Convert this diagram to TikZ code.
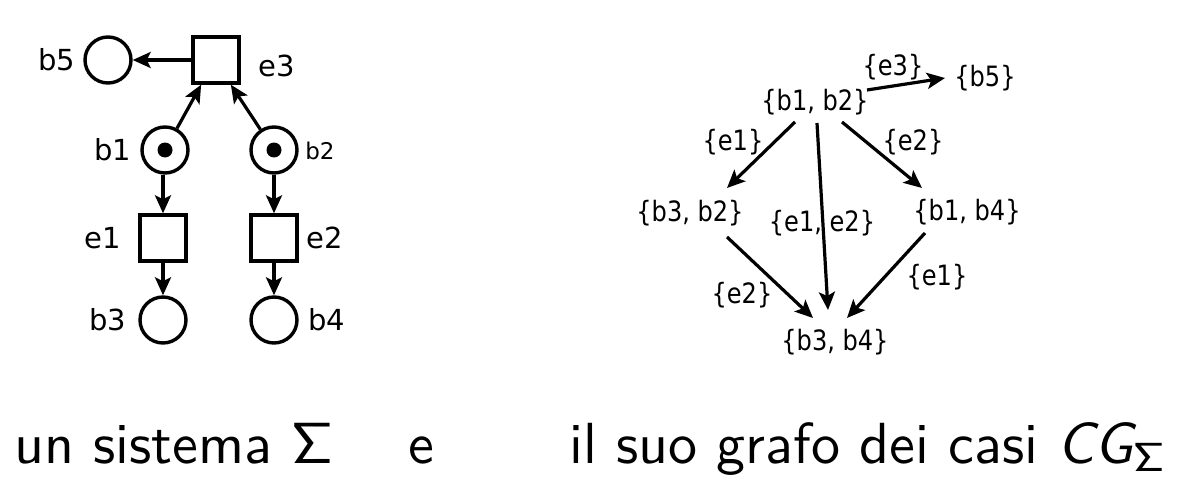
\documentclass[tikz,border=0pt]{standalone}
\usepackage[no-math]{fontspec}
\newfontfamily\dv{DejaVu Sans}
\newfontfamily\dvc[FakeStretch=0.86]{DejaVu Sans}
\usetikzlibrary{arrows.meta,calc}
\begin{document}
\begin{tikzpicture}[x=1pt,y=-1pt,
  place/.style={circle,draw,line width=3.4pt,minimum size=46pt,inner sep=0pt},
  trans/.style={rectangle,draw,line width=3.4pt,minimum size=46pt,inner sep=0pt},
  token/.style={circle,fill,minimum size=15pt,inner sep=0pt},
  plab/.style={font=\dv\fontsize{29}{29}\selectfont,inner sep=0pt},
  plabsmall/.style={font=\dv\fontsize{23}{23}\selectfont,inner sep=0pt},
  glab/.style={font=\dvc\fontsize{28}{28}\selectfont,inner sep=0pt},
  arr/.style={-{Stealth[length=18pt,width=16pt,inset=4pt]},line width=3.2pt},
  bottomtext/.style={font=\sffamily\fontsize{10}{12}\selectfont,scale=5.8,inner sep=0pt,anchor=base west}
]
\useasboundingbox (0,0) rectangle (1177,484);
% ---------- Petri net ----------
\node[place] (b5) at (108,60) {};
\node[trans] (e3) at (216,60) {};
\node[place] (b1) at (165,150) {};
\node[place] (b2) at (274,150) {};
\node[token] (t1) at (b1) {};
\node[token] (t2) at (b2) {};
\node[trans] (e1) at (163,238) {};
\node[trans] (e2) at (274,238) {};
\node[place] (b3) at (163,320) {};
\node[place] (b4) at (274,320) {};
\node[plab] (lb5) at (57,60) {b5};
\node[plab] (le3) at (277,66) {e3};
\node[plab] (lb1) at (113,150) {b1};
\node[plabsmall] (lb2) at (320,151) {b2};
\node[plab] (le1) at (103,238) {e1};
\node[plab] (le2) at (325,238) {e2};
\node[plab] (lb3) at (108,320) {b3};
\node[plab] (lb4) at (327,320) {b4};
\draw[arr] (e3) -- (b5);
\draw[arr] (b1) -- (e3.-121);
\draw[arr] (b2) -- (e3.-59);
\draw[arr] (b1.south -| e1.north) -- (e1);
\draw[arr] (b2) -- (e2);
\draw[arr] (e1) -- (b3);
\draw[arr] (e2) -- (b4);
% ---------- Case graph ----------
\node[glab] (B5) at (985,78) {\{b5\}};
\node[glab] (B12) at (815,102) {\{b1, b2\}};
\node[glab] (B32) at (690,213) {\{b3, b2\}};
\node[glab] (B14) at (967,212) {\{b1, b4\}};
\node[glab] (B34) at (835,342) {\{b3, b4\}};
\draw[arr] ($(B12)+(52,-12)$) -- ($(B5)+(-40,0)$);
\draw[arr] ($(B12)+(-20,20)$) -- ($(B32)+(37,-25)$);
\draw[arr] ($(B12)+(27,20)$) -- ($(B14)+(-45,-24)$);
\draw[arr] ($(B12)+(2,21)$) -- ($(B34)+(-7,-32)$);
\draw[arr] ($(B32)+(37,24)$) -- ($(B34)+(-22,-24)$);
\draw[arr] ($(B14)+(-42,21)$) -- ($(B34)+(12,-24)$);
\node[glab] (l3) at (893,67) {\{e3\}};
\node[glab] (l1a) at (733,142) {\{e1\}};
\node[glab] (l2a) at (913,142) {\{e2\}};
\node[glab] (l12) at (822,223) {\{e1, e2\}};
\node[glab] (l2b) at (742,295) {\{e2\}};
\node[glab] (l1b) at (937,277) {\{e1\}};
% ---------- captions ----------
\node[bottomtext] (c1) at (13,463) {un sistema $\mathsf{\Sigma}$};
\node[bottomtext] (c2) at (407,463) {e};
\node[bottomtext] (c3) at (568,463) {il suo grafo dei casi {\itshape CG}$_{\mathsf{\Sigma}}$};
\end{tikzpicture}
\end{document}
